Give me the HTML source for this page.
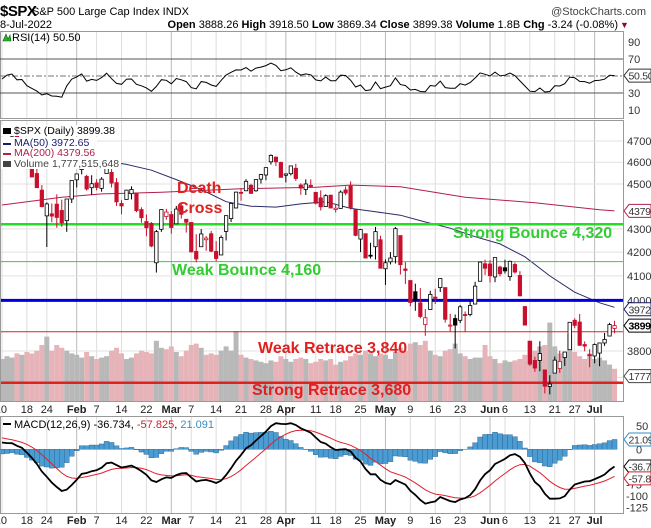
<!DOCTYPE html>
<html><head><meta charset="utf-8"><style>
html,body{margin:0;padding:0;background:#fff;}
svg{display:block;font-family:"Liberation Sans",Arial,sans-serif;}
</style></head><body>
<svg id="c" width="651" height="528" viewBox="0 0 651 528">
<rect x="0" y="0" width="651" height="528" fill="#fff"/>
<g id="hdr">
<text x="0" y="16" font-size="15" font-weight="bold" letter-spacing="-0.5">$SPX</text>
<text x="32" y="15" font-size="11">S&amp;P 500 Large Cap Index INDX</text>
<text x="646" y="15" font-size="11" fill="#444" text-anchor="end">@StockCharts.com</text>
<text x="0" y="28" font-size="11">8-Jul-2022</text>
<text x="618" y="28" font-size="11" text-anchor="end"><tspan font-weight="bold">Open</tspan> 3888.26 <tspan font-weight="bold">High</tspan> 3918.50 <tspan font-weight="bold">Low</tspan> 3869.34 <tspan font-weight="bold">Close</tspan> 3899.38 <tspan font-weight="bold">Volume</tspan> 1.8B <tspan font-weight="bold">Chg</tspan> -3.24 (-0.08%)</text>
<text x="620" y="28" font-size="9" fill="#8b0a2a">▼</text>
</g>
<g id="rsi"></g>
<g id="price"></g>
<g id="xax"></g>
<g id="macd"></g>
</svg>
<script>
// ---- data ----
const monthNames = ['Jan','Feb','Mar','Apr','May','Jun','Jul'];
const janDays = [10,11,12,13,14,18,19,20,21,24,25,26,27,28,31];
const febDays = [1,2,3,4,7,8,9,10,11,14,15,16,17,18,22,23,24,25,28];
const marDays = [1,2,3,4,7,8,9,10,11,14,15,16,17,18,21,22,23,24,25,28,29,30,31];
const aprDays = [1,4,5,6,7,8,11,12,13,14,18,19,20,21,22,25,26,27,28,29];
const mayDays = [2,3,4,5,6,9,10,11,12,13,16,17,18,19,20,23,24,25,26,27,31];
const junDays = [1,2,3,6,7,8,9,10,13,14,15,16,17,21,22,23,24,27,28,29,30];
const julDays = [1,5,6,7,8];
const opens = [4655,4670,4728,4733,4637,4633,4589,4548,4472,4357,4366,4409,4381,4336,4432,
4519,4566,4535,4483,4505,4480,4548,4553,4506,4412,4430,4456,4457,4385,4332,4324,4155,4298,4354,
4363,4322,4401,4342,4328,4203,4223,4253,4279,4203,4188,4289,4345,4392,4462,4469,4494,4469,4522,4541,4602,4624,4599,
4540,4547,4572,4495,4475,4494,4462,4437,4398,4449,4385,4390,4473,4490,4385,4256,4279,4187,4223,4253,
4130,4159,4181,4271,4129,4081,4035,3990,3903,3963,4013,4052,4052,3900,3927,3920,3943,3943,3985,4078,4151,
4150,4096,4137,4134,4097,4148,4102,3975,3838,3764,3764,3728,3666,3716,3733,3775,3805,3920,3913,3825,3786,
3781,3792,3831,3858,3888];
const highs = [4673,4714,4749,4744,4666,4633,4612,4611,4495,4417,4412,4453,4429,4432,4516,
4546,4595,4542,4540,4522,4531,4590,4588,4527,4427,4473,4489,4457,4395,4363,4330,4295,4385,4388,
4378,4401,4416,4342,4328,4277,4299,4269,4291,4247,4272,4358,4413,4465,4481,4522,4501,4520,4546,4575,4637,4627,4603,
4548,4583,4593,4503,4521,4521,4464,4471,4453,4452,4411,4471,4489,4512,4386,4299,4279,4240,4309,4270,
4169,4200,4308,4271,4158,4082,4068,4050,3965,4039,4047,4090,4052,3946,3943,3981,3955,3999,4076,4159,4168,
4166,4177,4143,4168,4164,4156,4120,3975,3839,3778,3838,3728,3708,3779,3801,3796,3913,3928,3945,3837,3807,
3829,3832,3870,3910,3918];
const lows = [4582,4638,4702,4651,4614,4568,4530,4482,4395,4222,4329,4305,4309,4287,4414,
4484,4544,4470,4451,4471,4465,4548,4484,4401,4364,4430,4430,4373,4327,4268,4221,4114,4287,4340,
4279,4322,4345,4284,4199,4157,4223,4206,4200,4161,4188,4250,4330,4390,4424,4469,4456,4465,4502,4517,4589,4582,4530,
4507,4539,4514,4451,4450,4483,4408,4381,4397,4390,4372,4390,4449,4385,4268,4200,4175,4173,4169,4132,
4063,4148,4152,4106,4067,3976,3958,3928,3859,3963,3985,4034,3911,3876,3810,3909,3875,3936,3985,4077,4104,
4073,4074,4098,4110,4080,4110,4017,3901,3743,3721,3723,3640,3637,3716,3717,3743,3805,3889,3820,3799,3738,
3753,3742,3820,3858,3869];
const closes = [4670,4713,4726,4659,4662,4577,4532,4483,4398,4410,4356,4350,4326,4432,4516,
4546,4589,4477,4501,4484,4522,4587,4504,4419,4401,4472,4475,4380,4349,4305,4226,4288,4385,4374,
4306,4387,4364,4329,4201,4171,4278,4260,4204,4173,4263,4358,4412,4463,4461,4512,4457,4520,4543,4575,4632,4602,4530,
4546,4583,4525,4481,4500,4488,4413,4397,4447,4392,4391,4463,4459,4394,4272,4297,4175,4183,4288,4132,
4155,4175,4301,4147,4123,3991,4001,3935,3930,4024,4008,4089,3924,3901,3901,3974,3941,3979,4058,4158,4132,
4101,4177,4109,4121,4161,4116,4018,3901,3750,3735,3790,3667,3675,3765,3760,3796,3912,3900,3822,3819,3785,
3825,3831,3845,3903,3899];
const volumes = [3.0,3.2,3.1,3.4,3.3,3.5,3.4,3.6,4.0,4.6,3.6,4.0,3.8,3.6,3.4,
3.3,3.1,3.5,3.2,3.0,3.1,3.2,3.6,3.8,3.4,3.0,3.1,3.4,3.6,3.5,3.4,4.3,3.8,3.7,
3.9,3.5,3.2,3.6,4.0,4.1,3.8,3.3,3.4,3.3,3.6,3.9,3.6,5.0,3.3,3.1,3.0,2.9,2.8,2.7,2.9,2.8,3.2,
3.0,2.8,3.0,3.1,3.0,2.7,2.8,3.0,2.9,3.0,2.6,2.8,2.9,3.2,3.4,3.3,3.6,3.4,3.2,3.4,
3.3,3.0,3.5,3.8,3.6,4.1,4.2,4.0,4.3,3.6,3.3,3.2,3.6,3.7,4.1,3.4,3.2,3.0,3.1,3.1,4.0,
3.2,3.0,2.7,2.9,2.8,2.9,3.0,3.3,4.3,3.6,3.9,4.0,5.6,3.9,3.4,3.5,4.8,3.5,3.2,3.0,3.4,
3.0,3.1,2.9,2.6,2.3];
const warmupCloses = [4655,4567,4513,4577,4538,4591,4686,4701,4667,4712,4669,4634,4710,4669,4621,4568,4649,4697,4725,4791,4786,4793,4778,4766,4797,4794,4701,4696,4677];
const ma50Idx = [21,25,30,35,40,45,50,55,60,65,70,75,80,85,90,95,100,105,110,115,120,123];
const ma50Vals = [4605,4590,4563,4520,4475,4420,4400,4396,4410,4420,4390,4375,4360,4330,4303,4266,4235,4180,4100,4033,3990,3972];
const ma200Idx = [0,12,20,32,48,63,70,80,93,107,120,123];
const ma200Vals = [4405,4440,4455,4462,4478,4485,4495,4487,4440,4415,4384,4379];
const priceTicks = [3700,3800,4000,4100,4200,4300,4500,4600,4700];
const rsiTicks = [90,70,30,10];
const macdTicks = [50,0,-75,-100,-125];
const tickDates = ['Jan 10','Jan 18','Jan 24','Feb 1','Feb 7','Feb 14','Feb 22','Mar 1','Mar 7','Mar 14','Mar 21','Mar 28','Apr 1','Apr 11','Apr 18','Apr 25','May 2','May 9','May 16','May 23','Jun 1','Jun 6','Jun 13','Jun 21','Jun 27','Jul 1'];
const tickLabels = ['10','18','24','Feb','7','14','22','Mar','7','14','21','28','Apr','11','18','25','May','9','16','23','Jun','6','13','21','27','Jul'];
const levelPrices = [4320,4160,4000,3875,3680];
const levelLabels = ['Strong Bounce 4,320','Weak Bounce 4,160','','Weak Retrace 3,840','Strong Retrace 3,680'];

// ---- helpers ----
const NS='http://www.w3.org/2000/svg';
function mk(tag,attrs,parent){const e=document.createElementNS(NS,tag);for(const k in attrs)e.setAttribute(k,attrs[k]);parent.appendChild(e);return e;}
const dates=[];
[janDays,febDays,marDays,aprDays,mayDays,junDays,julDays].forEach((arr,m)=>arr.forEach(d=>dates.push(monthNames[m]+' '+d)));
const PR=623;
const xOf=i=>2+i*4.98;
const yP=p=>141+988*Math.log(4700/p);
const yR=v=>118.5-0.85*v;
const yM=v=>449.3-0.467*v;
const yV=v=>401-v*14;
const tickIdx=tickDates.map(d=>dates.indexOf(d));

function panelGrid(g,top,bot){
  tickIdx.forEach((ix,k)=>{
    const isMonth=/^[A-Z]/.test(tickLabels[k]);
    const l=mk('line',{x1:xOf(ix),x2:xOf(ix),y1:top,y2:bot,stroke:isMonth?'#bbb':'#ddd','stroke-width':1},g);
    
    
  });
}
function badge(g,y,txt,col,bold,name){
  const p=mk('path',{d:`M624,${y} L629,${y-6.5} L651,${y-6.5} L651,${y+6.5} L629,${y+6.5} Z`,fill:'#fff',stroke:col,'stroke-width':1},g);
  
  
  const t=mk('text',{x:628.5,y:y+4,'font-size':10.5,fill:bold?'#000':'#333','font-weight':bold?'bold':'normal','letter-spacing':'-0.3'},g);
  t.textContent=txt;
  
  
}

// ---- indicators from closes ----
const all=warmupCloses.concat(closes);
const W=warmupCloses.length;
const rsi=[];
(function(){let ag=0,al=0;for(let i=1;i<=14;i++){const d=all[i]-all[i-1];if(d>0)ag+=d;else al-=d;}ag/=14;al/=14;
 for(let i=15;i<all.length;i++){const d=all[i]-all[i-1];ag=(ag*13+Math.max(d,0))/14;al=(al*13+Math.max(-d,0))/14;
 if(i>=W)rsi.push(100-100/(1+ag/al));}})();
const macd=[],sig=[],hist=[];
(function(){let e12=all[0],e26=all[0],s=null;const a12=2/13,a26=2/27,a9=0.2;
 for(let i=0;i<all.length;i++){e12+=a12*(all[i]-e12);e26+=a26*(all[i]-e26);const m=e12-e26;s=(s===null)?m:s+a9*(m-s);
 if(i>=W){macd.push(m);sig.push(s);hist.push(m-s);}}})();

// ---- RSI panel ----
const gR=document.getElementById('rsi');
mk('rect',{x:0.5,y:31.5,width:PR,height:87,fill:'#fff',stroke:'#999'},gR);
panelGrid(gR,32,118);
rsiTicks.forEach(v=>{
  const t=mk('text',{x:628,y:yR(v)+4,'font-size':11,fill:'#333'},gR);t.textContent=v;
  
  
});
[70,30].forEach(v=>{const l=mk('line',{x1:0,x2:PR,y1:yR(v),y2:yR(v),stroke:'#555','stroke-width':1},gR);
  
  });
{const l=mk('line',{x1:0,x2:PR,y1:yR(50),y2:yR(50),stroke:'#777','stroke-width':1,'stroke-dasharray':'6,2,2,2'},gR);
 
 }
{const pl=mk('polyline',{points:rsi.map((v,i)=>xOf(i)+','+yR(v).toFixed(1)).join(' '),fill:'none',stroke:'#000','stroke-width':1},gR);
 
 }
{const t=mk('text',{x:12,y:41,'font-size':11},gR);t.textContent='RSI(14) 50.50';
 
 
 const ic=mk('path',{d:'M3,41 L6,34 L8,39 L10,35 L11,41 Z',fill:'#3a3',stroke:'#060','stroke-width':0.6},gR);
 
 }
badge(gR,yR(rsi[rsi.length-1]),'50.50','#333',false,'rsi-value-badge');

// ---- Price panel ----
const gP=document.getElementById('price');
mk('rect',{x:0.5,y:120.5,width:PR,height:281,fill:'#fff',stroke:'#999'},gP);
mk('clipPath',{id:'pc'},gP).appendChild(document.createElementNS(NS,'rect'));
const cr=document.querySelector('#pc rect');cr.setAttribute('x',1);cr.setAttribute('y',121);cr.setAttribute('width',PR-1);cr.setAttribute('height',280);
panelGrid(gP,121,401);
const gIn=mk('g',{'clip-path':'url(#pc)'},gP);
priceTicks.forEach(p=>{
  const l=mk('line',{x1:0,x2:PR,y1:yP(p),y2:yP(p),stroke:'#e2e2e2'},gIn);
  
  
  const t=mk('text',{x:627,y:yP(p)+4,'font-size':11,fill:'#333'},gP);t.textContent=p;
  
  
});
// volume
volumes.forEach((v,i)=>{
  const down=i>0?closes[i]<closes[i-1]:closes[i]<opens[i];
  const r=mk('rect',{x:xOf(i)-2.5,y:yV(v),width:5,height:401-yV(v),fill:down?'#e6b4b8':'#b8b8b8'},gIn);
  
  
});
// MAs
{const pl=mk('polyline',{points:ma200Idx.map((ix,k)=>xOf(ix)+','+yP(ma200Vals[k]).toFixed(1)).join(' '),fill:'none',stroke:'#b0204a','stroke-width':1},gIn);
 
 }
{const pl=mk('polyline',{points:ma50Idx.map((ix,k)=>xOf(ix)+','+yP(ma50Vals[k]).toFixed(1)).join(' '),fill:'none',stroke:'#2a2a6a','stroke-width':1},gIn);
 
 }
// level lines
const lvlStyle=[['#22dd22',2.5],['#22dd22',1],['#0000dd',3],['#dd2222',1],['#dd2222',2.5]];
levelPrices.forEach((p,k)=>{
  const l=mk('line',{x1:0,x2:PR,y1:yP(p),y2:yP(p),stroke:lvlStyle[k][0],'stroke-width':lvlStyle[k][1]},gIn);
  
  
});
// candles
closes.forEach((c,i)=>{
  const o=opens[i],h=highs[i],lo=lows[i];
  const up=c>=o;
  const col=(i>0?c<closes[i-1]:!up)?'#c8102e':'#000';
  const x=xOf(i);
  const w=mk('line',{x1:x,x2:x,y1:yP(h),y2:yP(lo),stroke:col,'stroke-width':1},gIn);
  
  
  const top=yP(Math.max(o,c)),bot=yP(Math.min(o,c));
  const b=mk('rect',{x:x-1.7,y:top,width:3.4,height:Math.max(1,bot-top),fill:up?'#fff':col,stroke:col,'stroke-width':0.8},gIn);
  
  
});
// annotations
const ann=[['Death',177,193,'#e02020'],['Cross',177,213,'#e02020'],[levelLabels[0],453,238,'#33cc33'],[levelLabels[1],172,275,'#33cc33'],[levelLabels[3],258,353,'#e02020'],[levelLabels[4],252,395,'#e02020']];
ann.forEach(a=>{
  const t=mk('text',{x:a[1],y:a[2],'font-size':16,'font-weight':'bold',fill:a[3]},gIn);t.textContent=a[0];
  
  
});
// legend
const leg=[['$SPX (Daily) 3899.38',131,'#000',14,104],['MA(50) 3972.65',143,'#1a1a6a',14,82],['MA(200) 4379.56',153,'#b0204a',14,88],['Volume 1,777,515,648',164,'#444',14,106]];
leg.forEach((L,k)=>{
  const bg=mk('rect',{x:1,y:L[1]-6,width:L[4]+14,height:11,fill:'#fff'},gP);
  
  
});
leg.forEach((L,k)=>{
  const t=mk('text',{x:L[3],y:L[1]+3,'font-size':10.5,fill:L[2]},gP);t.textContent=L[0];
  
  
  const m=mk('rect',{x:3,y:L[1]-(k==0||k==3?3:0),width:8,height:k==0||k==3?6:2,fill:L[2]},gP);
  
  
});
badge(gP,yP(ma200Vals[ma200Vals.length-1]),'4379','#b0204a',false,'ma200-badge');
badge(gP,yP(ma50Vals[ma50Vals.length-1])+2,'3972','#1a1a6a',false,'ma50-badge');
badge(gP,yP(closes[closes.length-1]),'3899','#000',true,'close-badge');
badge(gP,yV(1.777),'1777','#444',false,'volume-badge');

// ---- x axes ----
const gX=document.getElementById('xax');
[413,524].forEach(yy=>{
  tickIdx.forEach((ix,k)=>{
    const isMonth=/^[A-Z]/.test(tickLabels[k]);
    const t=mk('text',{x:xOf(ix),y:yy,'font-size':11,'text-anchor':k==0?'end':'middle','font-weight':isMonth?'bold':'normal',fill:'#222'},gX);
    t.textContent=tickLabels[k];
    if(k==0)t.setAttribute('x',xOf(ix)+5);
    
    
  });
});

// ---- MACD panel ----
const gM=document.getElementById('macd');
mk('rect',{x:0.5,y:416.5,width:PR,height:97,fill:'#fff',stroke:'#999'},gM);
panelGrid(gM,417,513);
macdTicks.forEach(v=>{
  const t=mk('text',{x:v<0?626:636,y:yM(v)+4,'font-size':11,fill:'#333'},gM);t.textContent=v;
  
  
});
hist.forEach((h,i)=>{
  const y0=yM(0),y1=yM(h);
  const r=mk('rect',{x:xOf(i)-2.5,y:Math.min(y0,y1),width:5,height:Math.abs(y1-y0),fill:'#4b9cd3',stroke:'#2a5f88','stroke-width':0.4},gM);
  
  
});
{const pl=mk('polyline',{points:sig.map((v,i)=>xOf(i)+','+yM(v).toFixed(1)).join(' '),fill:'none',stroke:'#e02030','stroke-width':1},gM);
 
 }
{const pl=mk('polyline',{points:macd.map((v,i)=>xOf(i)+','+yM(v).toFixed(1)).join(' '),fill:'none',stroke:'#000','stroke-width':1.8},gM);
 
 }
{const t=mk('text',{x:14,y:428,'font-size':11},gM);
 t.innerHTML='MACD(12,26,9) -36.734, <tspan fill="#d02030">-57.825</tspan>, <tspan fill="#3a8cc0">21.091</tspan>';
 
 
 const m=mk('rect',{x:3,y:423,width:8,height:2,fill:'#000'},gM);
 
 }
badge(gM,yM(hist[hist.length-1]),'21.09','#3a8cc0',false,'histogram-badge');
badge(gM,yM(macd[macd.length-1]),'-36.7','#000',false,'macd-badge');
badge(gM,yM(sig[sig.length-1])+2,'-57.8','#d02030',false,'signal-badge');
</script>
</body></html>
